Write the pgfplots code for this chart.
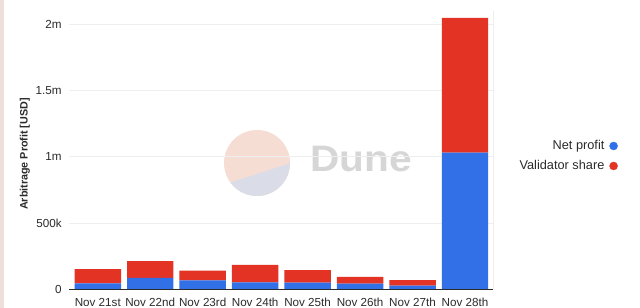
\documentclass[border=0pt]{standalone}
\usepackage{fontspec}
\setmainfont{Liberation Sans}
\usepackage{pgfplots}
\pgfplotsset{compat=1.18}

\definecolor{netblue}{HTML}{3170E6}
\definecolor{valred}{HTML}{E23324}
\definecolor{gridgray}{HTML}{EEEEEE}
\definecolor{txt}{HTML}{2B2B2B}
\definecolor{logopink}{HTML}{F6DDD3}
\definecolor{logolav}{HTML}{DADCE8}
\definecolor{logotext}{HTML}{D6D6D6}
\definecolor{edge}{HTML}{EDE0DA}

% daily arbitrage profit, split into the searcher's net profit and the validator's share
\pgfplotstableread{
idx net validator
0 45000 108000
1 87000 126000
2 68000 72000
3 53000 132000
4 50000 95000
5 42000 51000
6 27000 43000
7 1030000 1015000
}\profits

\begin{document}
\begin{tikzpicture}
\useasboundingbox (0,0) rectangle (640bp,308bp);
\fill[white] (0,0) rectangle (640bp,308bp);
\fill[edge] (0,0) rectangle (4bp,308bp);

% watermark
\begin{scope}
  \clip (257bp,145bp) circle (33bp);
  \fill[logopink] (220bp,100bp) rectangle (300bp,190bp);
  \fill[logolav] (200bp,115.5bp) -- (300bp,148bp) -- (300bp,100bp) -- (200bp,100bp) -- cycle;
\end{scope}
\node[anchor=base west, inner sep=0pt, text=logotext, font=\fontsize{37}{40}\selectfont\bfseries, xscale=1.1]
  at (310bp,136.3bp) {Dune};

\begin{axis}[
  at={(69.3bp,18.7bp)}, anchor=south west,
  scale only axis,
  width=423.7bp, height=278.6bp,
  ybar stacked, bar width=0.886,
  xmin=-0.543, xmax=7.534,
  ymin=0, ymax=2100000,
  axis line style={draw=none},
  major tick length=0pt,
  scaled y ticks=false,
  xtick=data,
  xticklabels={Nov 21st,Nov 22nd,Nov 23rd,Nov 24th,Nov 25th,Nov 26th,Nov 27th,Nov 28th},
  ytick={0,500000,1000000,1500000,2000000},
  yticklabels={0,500k,1m,1.5m,2m},
  /pgf/number format/assume math mode=true,
  ymajorgrids, grid style={gridgray, line width=0.6pt},
  tick label style={text=txt, font=\fontsize{11.7}{13}\selectfont},
  xticklabel style={anchor=north, inner sep=0pt, yshift=-9bp},
  yticklabel style={anchor=east, inner sep=0pt, xshift=-7.5bp},
  ylabel={Arbitrage Profit [USD]},
  every axis y label/.style={at={(axis description cs:-0.1046,0.4856)}, rotate=90, anchor=center,
    font=\fontsize{10.8}{12}\selectfont\bfseries, text=txt},
  legend plot pos=right,
  legend cell align=right,
  legend style={at={(axis description cs:1.295,0.4785)}, anchor=east, draw=none, fill=none,
    inner sep=0pt, row sep=9bp, column sep=5bp,
    font=\fontsize{12.8}{14}\selectfont, text=txt,
    nodes={inner sep=0pt, text height=8.8bp, text depth=2.2bp}},
  after end axis/.code={
    \draw[gridgray, line width=0.6pt] (rel axis cs:1,0) -- (rel axis cs:1,1);
    \draw[txt, line width=0.9pt] (rel axis cs:0,0) -- (rel axis cs:1,0);
  },
]
\addplot[fill=netblue, draw=none, forget plot] table[x=idx, y=net] {\profits};
\addplot[fill=valred, draw=none, forget plot] table[x=idx, y=validator] {\profits};
\addlegendimage{legend image code/.code={\fill[netblue] (4bp,0) circle (4bp);}}
\addlegendentry{Net profit}
\addlegendimage{legend image code/.code={\fill[valred] (4bp,0) circle (4bp);}}
\addlegendentry{Validator share}
\end{axis}
\end{tikzpicture}
\end{document}
